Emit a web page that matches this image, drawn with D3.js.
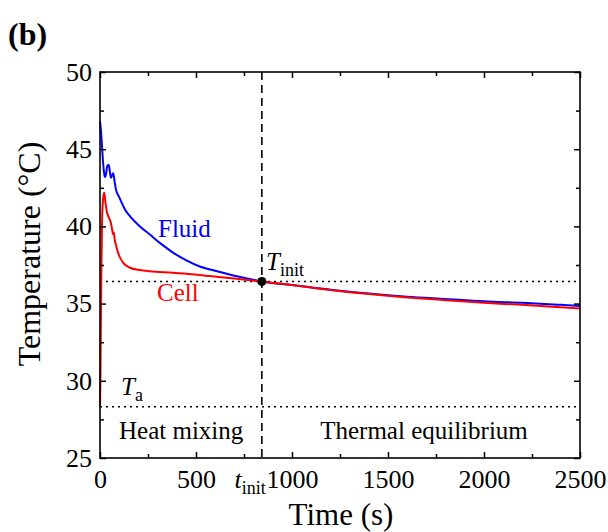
<!DOCTYPE html>
<html><head><meta charset="utf-8">
<script src="https://cdn.jsdelivr.net/npm/d3@7"></script>
<style>
body{margin:0;background:#fff;}
text{font-family:"Liberation Serif","Times New Roman",serif;}
</style></head>
<body><svg id="c" width="608" height="532"></svg>
<script>
// Data
const fluidTime = [0,5,10,15,20,25,30,38,45,52,57,63,69,75,83,100,130,160,208,260,320,382,450,520,625,700,780,843,1000,1200,1400,1600,1800,2000,2200,2400,2500];
const fluidTemp = [46.8,46.2,45.3,44.3,43.6,43.2,43.3,43.9,44.0,43.5,43.15,43.3,43.45,43.0,42.4,41.9,41.1,40.6,40.0,39.47,38.85,38.29,37.8,37.4,37.05,36.8,36.6,36.43,36.2,35.9,35.65,35.45,35.3,35.15,35.05,34.92,34.85];
const cellTime = [0,2,4,7,11,16,22,28,35,45,55,62,68,72,76,85,100,120,156,208,260,380,480,573,700,843,1000,1200,1400,1600,1800,2000,2200,2400,2500];
const cellTemp = [28.4,30,33,37,40.5,41.8,42.2,41.6,41.0,40.6,40.3,39.9,39.5,39.6,39.2,38.7,38.1,37.65,37.32,37.17,37.1,37.0,36.9,36.78,36.62,36.43,36.2,35.88,35.62,35.4,35.22,35.05,34.92,34.76,34.68];
const xTicks = [0,500,1000,1500,2000,2500];
const xMinor = [250,750,1250,1750,2250];
const yTicks = [25,30,35,40,45,50];
const yMinor = [27.5,32.5,37.5,42.5,47.5];
const tInit = 843;
const TInit = 36.43;
const Ta = 28.32;

const svg = d3.select("#c");
const L=100,R=580,T=72,B=458;
const x = d3.scaleLinear().domain([0,2500]).range([L,R]);
const y = d3.scaleLinear().domain([25,50]).range([B,T]);

// reference lines
svg.append("line").attr("x1",L).attr("x2",R).attr("y1",y(TInit)).attr("y2",y(TInit))
  .attr("stroke","#000").attr("stroke-width",1.6).attr("stroke-dasharray","2,4");
svg.append("line").attr("x1",L).attr("x2",R).attr("y1",y(Ta)).attr("y2",y(Ta))
  .attr("stroke","#000").attr("stroke-width",1.6).attr("stroke-dasharray","2,4");
svg.append("line").attr("x1",x(tInit)).attr("x2",x(tInit)).attr("y1",T).attr("y2",B)
  .attr("stroke","#000").attr("stroke-width",1.6).attr("stroke-dasharray","8,5");

const line = d3.line().x(d=>x(d[0])).y(d=>y(d[1])).curve(d3.curveMonotoneX);
svg.append("path").datum(fluidTime.map((t,i)=>[t,fluidTemp[i]]))
  .attr("d",line).attr("fill","none").attr("stroke","#0000ff").attr("stroke-width",2);
svg.append("path").datum(cellTime.map((t,i)=>[t,cellTemp[i]]))
  .attr("d",line).attr("fill","none").attr("stroke","#ff0000").attr("stroke-width",2);

svg.append("circle").attr("cx",x(tInit)).attr("cy",y(TInit)).attr("r",4.5).attr("fill","#000");

// axes
function styleAxis(g){
  g.attr("font-family",null);
  g.selectAll(".domain").remove();
  g.selectAll("line").attr("stroke","#000").attr("stroke-width",1.5);
  g.selectAll("text").attr("font-size",26).attr("fill","#000").attr("font-family","Liberation Serif, Times New Roman, serif");
}
const fmt = d3.format("d");
svg.append("g").attr("transform",`translate(0,${B})`)
  .call(d3.axisBottom(x).tickValues(xTicks).tickFormat(fmt).tickSizeInner(-6).tickSizeOuter(0).tickPadding(12))
  .call(styleAxis);
svg.append("g").attr("transform",`translate(0,${B})`)
  .call(d3.axisBottom(x).tickValues(xMinor).tickSizeInner(-4).tickSizeOuter(0).tickFormat(""))
  .call(styleAxis);
svg.append("g").attr("transform",`translate(0,${T})`)
  .call(d3.axisTop(x).tickValues(xTicks).tickSizeInner(-6).tickSizeOuter(0).tickFormat(""))
  .call(styleAxis);
svg.append("g").attr("transform",`translate(0,${T})`)
  .call(d3.axisTop(x).tickValues(xMinor).tickSizeInner(-4).tickSizeOuter(0).tickFormat(""))
  .call(styleAxis);
svg.append("g").attr("transform",`translate(${L},0)`)
  .call(d3.axisLeft(y).tickValues(yTicks).tickFormat(fmt).tickSizeInner(-6).tickSizeOuter(0).tickPadding(8))
  .call(styleAxis);
svg.append("g").attr("transform",`translate(${L},0)`)
  .call(d3.axisLeft(y).tickValues(yMinor).tickSizeInner(-4).tickSizeOuter(0).tickFormat(""))
  .call(styleAxis);
svg.append("g").attr("transform",`translate(${R},0)`)
  .call(d3.axisRight(y).tickValues(yTicks).tickSizeInner(-6).tickSizeOuter(0).tickFormat(""))
  .call(styleAxis);
svg.append("g").attr("transform",`translate(${R},0)`)
  .call(d3.axisRight(y).tickValues(yMinor).tickSizeInner(-4).tickSizeOuter(0).tickFormat(""))
  .call(styleAxis);

svg.append("rect").attr("x",L).attr("y",T).attr("width",R-L).attr("height",B-T)
  .attr("fill","none").attr("stroke","#000").attr("stroke-width",1.6);

// t_init tick label
const ti = svg.append("text").attr("x",x(tInit)+4).attr("y",488).attr("text-anchor","end").attr("font-size",26);
ti.append("tspan").attr("font-style","italic").text("t");
ti.append("tspan").attr("font-size",18).attr("dy",6).text("init");

// axis titles
svg.append("text").attr("x",341).attr("y",525).attr("text-anchor","middle").attr("font-size",31).text("Time (s)");
svg.append("text").attr("transform","translate(40,254) rotate(-90)").attr("text-anchor","middle").attr("font-size",32).text("Temperature (°C)");
svg.append("text").attr("x",8).attr("y",45).attr("font-size",32).attr("font-weight","bold").text("(b)");

// annotations
svg.append("text").attr("x",158).attr("y",237).attr("font-size",25).attr("fill","#0000ff").text("Fluid");
svg.append("text").attr("x",157).attr("y",301).attr("font-size",25).attr("fill","#ff0000").text("Cell");
const tI = svg.append("text").attr("x",266).attr("y",270).attr("font-size",25);
tI.append("tspan").attr("font-style","italic").text("T");
tI.append("tspan").attr("font-size",18).attr("dy",6).text("init");
const tA = svg.append("text").attr("x",121).attr("y",395).attr("font-size",25);
tA.append("tspan").attr("font-style","italic").text("T");
tA.append("tspan").attr("font-size",18).attr("dy",6).text("a");
svg.append("text").attr("x",119).attr("y",439).attr("font-size",25).text("Heat mixing");
svg.append("text").attr("x",424).attr("y",439).attr("text-anchor","middle").attr("font-size",25).text("Thermal equilibrium");
</script></body></html>
